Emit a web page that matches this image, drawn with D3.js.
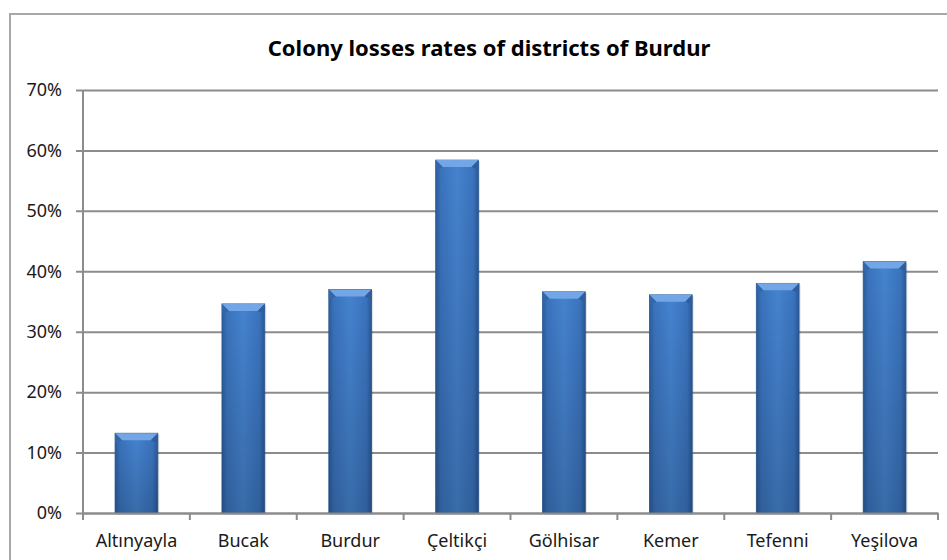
<html>
<head>
    <meta charset="utf-8">
    <script src="https://cdn.jsdelivr.net/npm/d3@7"></script>
    <style>
        body { margin: 0; background: white; font-family: "Noto Sans", "Open Sans", sans-serif; }
        svg { display: block; }
    </style>
</head>
<body>
<svg id="chart"></svg>
<script>
    // chart data
    let districts = ["Altınyayla", "Bucak", "Burdur", "Çeltikçi", "Gölhisar", "Kemer", "Tefenni", "Yeşilova"];
    let lossRates = [0.132, 0.346, 0.370, 0.584, 0.366, 0.361, 0.380, 0.416];
    let yTicks = [0, 0.1, 0.2, 0.3, 0.4, 0.5, 0.6, 0.7];
    let chartTitle = "Colony losses rates of districts of Burdur";

    let width = 947, height = 560;
    let margin = { top: 90, bottom: 47, left: 83, right: 9 };
    let bodyWidth = width - margin.left - margin.right;
    let bodyHeight = height - margin.top - margin.bottom;

    let svg = d3.select("#chart").attr("width", width).attr("height", height);

    // gradient for the bars
    let defs = svg.append("defs");
    let grad = defs.append("linearGradient").attr("id", "barGrad")
        .attr("x1", "0%").attr("x2", "100%").attr("y1", "0%").attr("y2", "0%");
    grad.append("stop").attr("offset", "0%").attr("stop-color", "#2c5d9c");
    grad.append("stop").attr("offset", "12%").attr("stop-color", "#3a73bd");
    grad.append("stop").attr("offset", "50%").attr("stop-color", "#4583cf");
    grad.append("stop").attr("offset", "88%").attr("stop-color", "#3a73bd");
    grad.append("stop").attr("offset", "100%").attr("stop-color", "#2a5896");

    let vgrad = defs.append("linearGradient").attr("id", "shade")
        .attr("x1", "0%").attr("x2", "0%").attr("y1", "0%").attr("y2", "100%");
    vgrad.append("stop").attr("offset", "0%").attr("stop-color", "#000").attr("stop-opacity", 0);
    vgrad.append("stop").attr("offset", "100%").attr("stop-color", "#000").attr("stop-opacity", 0.18);

    // outer frame
    svg.append("rect")
        .attr("x", 10).attr("y", 14)
        .attr("width", width + 20).attr("height", height + 20)
        .attr("fill", "none").attr("stroke", "#a8a8a8").attr("stroke-width", 2);

    let xScale = d3.scaleBand()
        .domain(districts)
        .range([0, bodyWidth])
        .paddingInner(0.6)
        .paddingOuter(0.3);

    let yScale = d3.scaleLinear()
        .domain([0, 0.7])
        .range([bodyHeight, 0]);

    let body = svg.append("g").attr("transform", `translate(${margin.left},${margin.top})`);

    // gridlines + y axis
    let axisY = d3.axisLeft(yScale)
        .tickValues(yTicks)
        .tickFormat(d3.format(".0%"))
        .tickSize(-bodyWidth)
        .tickPadding(21);
    let gy = body.append("g").call(axisY);
    gy.select(".domain").remove();
    gy.selectAll(".tick line")
        .attr("x1", -7)
        .attr("stroke", "#8c8c8c").attr("stroke-width", 2);
    gy.selectAll(".tick text")
        .attr("font-size", 18).attr("fill", "#1a1a1a")
        .attr("font-family", "'Noto Sans', sans-serif");

    body.append("line")
        .attr("x1", 0).attr("x2", 0).attr("y1", 0).attr("y2", bodyHeight)
        .attr("stroke", "#8c8c8c").attr("stroke-width", 2);

    // bars
    let bars = body.selectAll(".bar")
        .data(districts)
        .enter().append("g")
        .attr("class", "bar");

    let bw = xScale.bandwidth();
    bars.append("rect")
        .attr("x", d => xScale(d) + 1.5)
        .attr("y", (d, i) => yScale(lossRates[i]) + 1.5)
        .attr("width", bw)
        .attr("height", (d, i) => bodyHeight - yScale(lossRates[i]))
        .attr("fill", "#000").attr("opacity", 0.12);
    bars.append("rect")
        .attr("x", d => xScale(d))
        .attr("y", (d, i) => yScale(lossRates[i]))
        .attr("width", bw)
        .attr("height", (d, i) => bodyHeight - yScale(lossRates[i]))
        .attr("fill", "url(#barGrad)")
        .attr("stroke", "#2b5a95").attr("stroke-width", 0.8);
    bars.append("rect")
        .attr("x", d => xScale(d))
        .attr("y", (d, i) => yScale(lossRates[i]))
        .attr("width", bw)
        .attr("height", (d, i) => bodyHeight - yScale(lossRates[i]))
        .attr("fill", "url(#shade)");
    // bevel on top
    bars.append("path")
        .attr("d", (d, i) => {
            let x0 = xScale(d), y0 = yScale(lossRates[i]), b = 7;
            return `M${x0},${y0} L${x0 + bw},${y0} L${x0 + bw - b},${y0 + b} L${x0 + b},${y0 + b} Z`;
        })
        .attr("fill", "#72a6e6");
    bars.append("path")
        .attr("d", (d, i) => {
            let x0 = xScale(d), y0 = yScale(lossRates[i]), b = 7;
            return `M${x0},${y0} L${x0 + b},${y0 + b} L${x0},${y0 + b + 3} Z`;
        })
        .attr("fill", "#3566a8");
    bars.append("path")
        .attr("d", (d, i) => {
            let x0 = xScale(d) + bw, y0 = yScale(lossRates[i]), b = 7;
            return `M${x0},${y0} L${x0 - b},${y0 + b} L${x0},${y0 + b + 3} Z`;
        })
        .attr("fill", "#2f5e9e");

    // x axis
    let axisX = d3.axisBottom(xScale).tickSize(0).tickPadding(21);
    let gx = body.append("g").attr("transform", `translate(0,${bodyHeight})`).call(axisX);
    gx.select(".domain").attr("stroke", "#8c8c8c").attr("stroke-width", 2);
    gx.selectAll(".tick text")
        .attr("font-size", 18).attr("fill", "#1a1a1a")
        .attr("font-family", "'Noto Sans', sans-serif");

    // category separators (ticks between bars)
    gx.selectAll(".sep")
        .data(d3.range(districts.length + 1))
        .enter().append("line")
        .attr("x1", i => i * bodyWidth / districts.length)
        .attr("x2", i => i * bodyWidth / districts.length)
        .attr("y1", 0).attr("y2", 7)
        .attr("stroke", "#8c8c8c").attr("stroke-width", 2);

    // title
    svg.append("text")
        .attr("x", 489).attr("y", 56)
        .attr("text-anchor", "middle")
        .attr("font-size", 22).attr("font-weight", "bold")
        .attr("fill", "#000")
        .text(chartTitle);
</script>
</body>
</html>
